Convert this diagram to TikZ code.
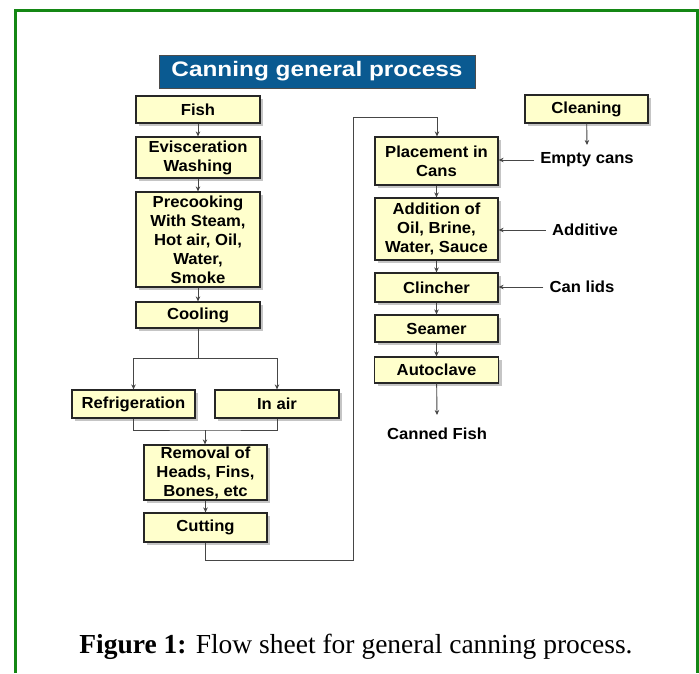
\documentclass[tikz,border=0pt]{standalone}
\usepackage{fontspec}
\usetikzlibrary{arrows.meta,shadows}
\newfontfamily\boxfont[FakeStretch=1.04]{Liberation Sans Bold}
\newfontfamily\titlefont[FakeStretch=1.16]{Liberation Sans Bold}
\newfontfamily\capfont{Liberation Serif}
\definecolor{framegreen}{RGB}{20,135,20}
\definecolor{boxfill}{RGB}{255,255,204}
\definecolor{titleblue}{RGB}{10,90,145}
\definecolor{linegray}{RGB}{70,70,70}
\newcommand\boxtextfont{\boxfont\fontsize{16}{19}\selectfont\setbox\strutbox\hbox{\vrule height 14pt depth 2.5pt width 0pt}}
\tikzset{
  stepbox/.style={draw=black!85, line width=1.2pt, fill=boxfill, align=center,
    inner sep=0pt, font=\boxtextfont,
    drop shadow={shadow xshift=3pt, shadow yshift=-3pt, fill=black!45, opacity=0.5}},
  lbl/.style={inner sep=6pt, font=\boxtextfont},
  conn/.style={draw=linegray, line width=0.9pt},
  arr/.style={conn, -{Stealth[length=5pt,width=4.5pt]}},
}
\begin{document}
\begin{tikzpicture}[x=1pt,y=-1pt]
\useasboundingbox (0,0) rectangle (699,673);
\fill[white] (0,0) rectangle (699,673);
\draw[framegreen, line width=3pt] (15,673) -- (15,10) -- (697,10) -- (697,673);

\node[fill=titleblue, draw=black!70, line width=1pt, minimum width=316pt, minimum height=33pt,
  inner sep=0pt, text=white, font=\titlefont\fontsize{21}{24}\selectfont] (title) at (317,71.5) {Canning general process};

\node[stepbox, minimum width=124pt, minimum height=27pt] (fish) at (198,109.5) {Fish};
\node[stepbox, minimum width=124pt, minimum height=41pt] (evis) at (198,157.5) {Evisceration\\Washing};
\node[stepbox, minimum width=124pt, minimum height=95pt] (pre) at (198,239.5) {Precooking\\With Steam,\\Hot air, Oil,\\Water,\\Smoke};
\node[stepbox, minimum width=124pt, minimum height=26pt] (cool) at (198,315) {Cooling};
\node[stepbox, minimum width=123pt, minimum height=28pt] (refr) at (133.5,404) {Refrigeration};
\node[stepbox, minimum width=124pt, minimum height=28pt] (air) at (277,404) {In air};
\node[stepbox, minimum width=123pt, minimum height=55pt] (rem) at (205.5,472.5) {Removal of\\Heads, Fins,\\Bones, etc};
\node[stepbox, minimum width=123pt, minimum height=29pt] (cut) at (205.5,527.5) {Cutting};

\node[stepbox, minimum width=123pt, minimum height=48pt] (place) at (436.5,161) {Placement in\\Cans};
\node[stepbox, minimum width=123pt, minimum height=62pt] (add) at (436.5,229) {Addition of\\Oil, Brine,\\Water, Sauce};
\node[stepbox, minimum width=123pt, minimum height=29pt] (clin) at (436.5,287.5) {Clincher};
\node[stepbox, minimum width=123pt, minimum height=27pt] (seam) at (436.5,328.5) {Seamer};
\node[stepbox, minimum width=124pt, minimum height=26pt] (auto) at (436.5,370) {Autoclave};
\node[stepbox, minimum width=123pt, minimum height=28pt] (clean) at (586.5,109) {Cleaning};

\node[lbl] (empty) at (587,160) {Empty cans};
\node[lbl] (addv) at (585,230) {Additive};
\node[lbl] (lids) at (582,287) {Can lids};
\node[lbl] (canned) at (437,434) {Canned Fish};

\coordinate (split) at (198,358);
\coordinate (merge) at (205,430);
\coordinate (c1) at (205,560);
\coordinate (c2) at (353,560);
\coordinate (c3) at (353,117);
\coordinate (c4) at (437,117);
\coordinate (end) at (437,415);
\coordinate (cleanend) at (587,145);

\draw[arr] (fish) -- (evis);
\draw[arr] (evis) -- (pre);
\draw[arr] (pre) -- (cool);
\draw[conn] (cool) -- (split);
\draw[arr] (split) -| (refr.north);
\draw[arr] (split) -| (air.north);
\draw[conn] (refr.south) |- (merge) -| (air.south);
\draw[arr] (merge) -- (rem.north -| merge);
\draw[arr] (rem) -- (cut);
\draw[arr] (cut.south -| c1) -- (c1) -- (c2) -- (c3) -- (c4) -- (place.north -| c4);
\draw[arr] (place) -- (add);
\draw[arr] (add) -- (clin);
\draw[arr] (clin) -- (seam);
\draw[arr] (seam) -- (auto);
\draw[arr] (auto) -- (end);
\draw[arr] (clean) -- (cleanend);
\draw[arr] (empty.west) -- (empty.west -| place.east);
\draw[arr] (addv.west) -- (addv.west -| add.east);
\draw[arr] (lids.west) -- (lids.west -| clin.east);

\node[font=\capfont\fontsize{27.5}{30}\selectfont, inner sep=0pt] (cap) at (356,647) {\textbf{Figure 1:} Flow sheet for general canning process.};
\end{tikzpicture}
\end{document}
